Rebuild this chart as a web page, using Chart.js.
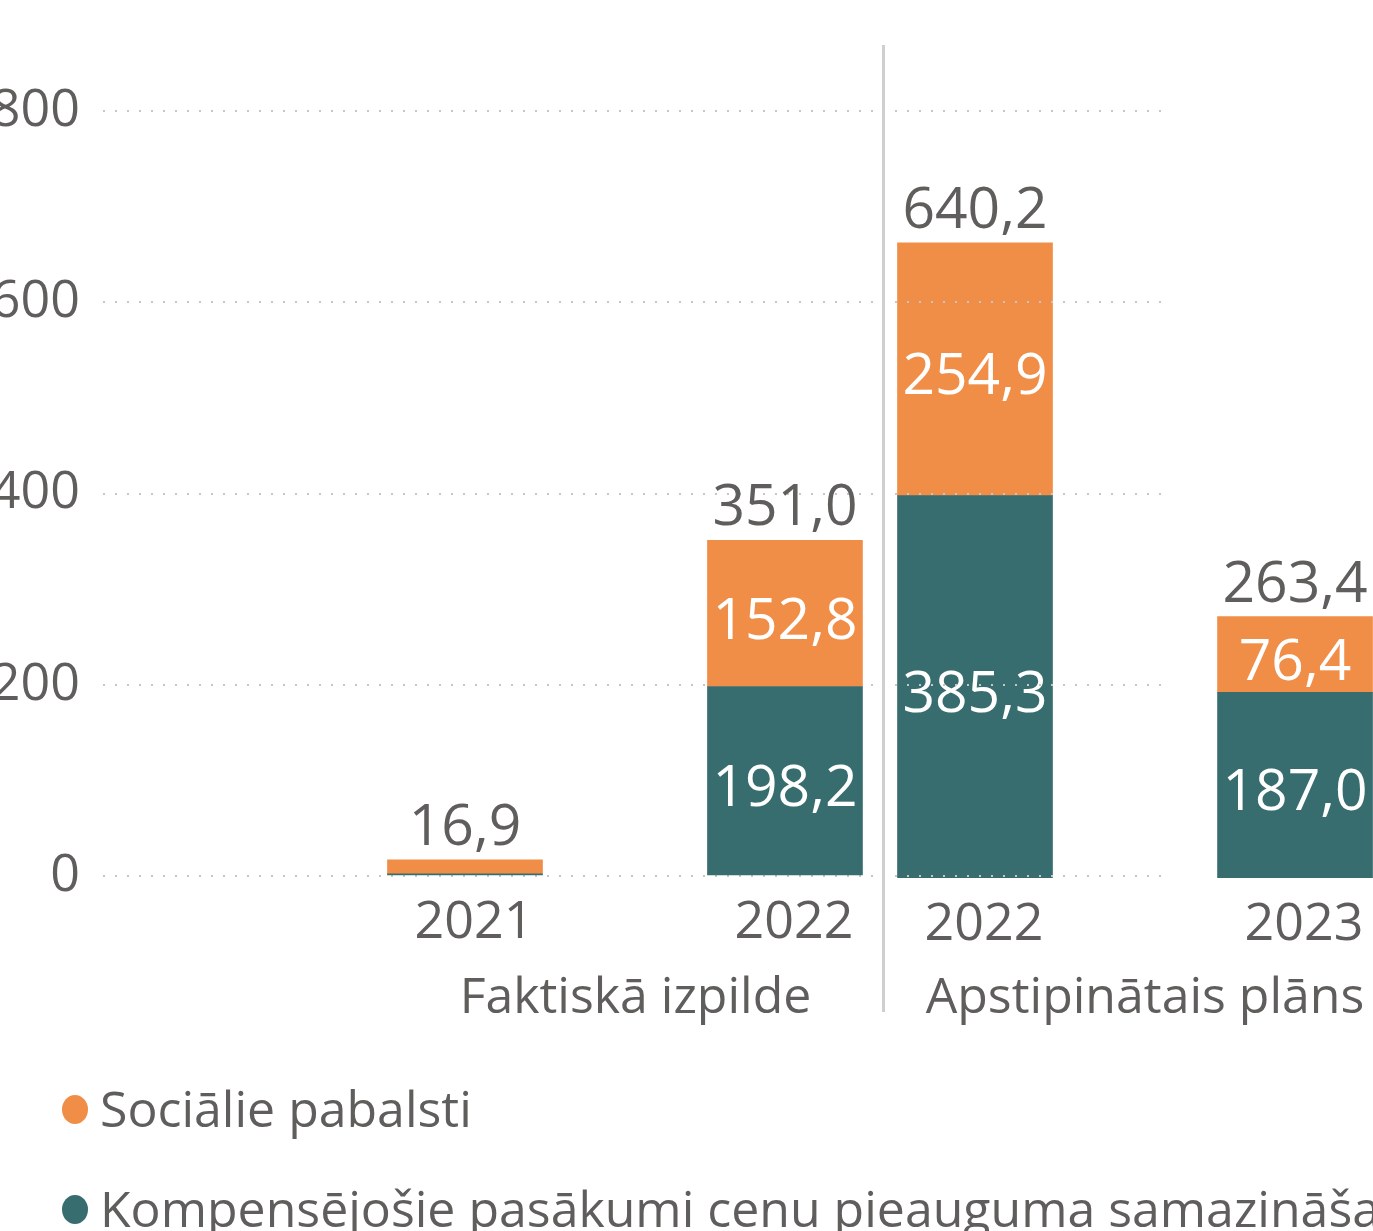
<!DOCTYPE html>
<html>
<head>
<meta charset="utf-8">
<script src="https://cdn.jsdelivr.net/npm/chart.js@4.4.0/dist/chart.umd.min.js"></script>
<style>
  html, body { margin:0; padding:0; background:#fff; overflow:hidden; }
  body { width:1373px; height:1231px; position:relative; font-family:'Open Sans', sans-serif; }
  #plans { position:absolute; left:884px; top:0; }
  #fakts { position:absolute; left:-10px; top:0; }
  #sep { position:absolute; left:882px; top:45px; width:3px; height:967px; background:#cfcfcf; }
  .leg { position:absolute; left:62px; white-space:nowrap; font-size:50px; line-height:60px; color:#605E5C; }
  .leg i { position:absolute; left:0; width:26px; height:29px; border-radius:50%; top:17px; }
  .leg span { position:absolute; left:38px; top:0; }
</style>
</head>
<body>
<canvas id="plans" width="516" height="1040"></canvas>
<canvas id="fakts" width="1200" height="1040"></canvas>
<div id="sep"></div>
<div class="leg" style="top:1078px"><i style="background:#F08E48"></i><span>Sociālie pabalsti</span></div>
<div class="leg" style="top:1178px"><i style="background:#386D6F"></i><span>Kompensējošie pasākumi cenu pieauguma samazināšanai</span></div>
<script>
// dati
const faktiGadi = ['2021', '2022'];
const faktiKomp = [2.3, 198.2];
const faktiSoc = [14.6, 152.8];
const planaGadi = ['2022', '2023'];
const planaKomp = [385.3, 187.0];
const planaSoc = [254.9, 76.4];
const yTicks = [0, 200, 400, 600, 800];

const oranzs = '#F08E48';
const zils = '#386D6F';
const pelek = '#605E5C';
const fonts = '"Open Sans", sans-serif';

function fmt(v) {
  return v.toFixed(1).replace('.', ',');
}

const etiketes = {
  id: 'etiketes',
  afterDatasetsDraw(chart) {
    const ctx = chart.ctx;
    ctx.save();
    ctx.font = '57px ' + fonts;
    ctx.textAlign = 'center';
    chart.data.datasets.forEach((ds, di) => {
      chart.getDatasetMeta(di).data.forEach((bar, i) => {
        if (Math.abs(bar.base - bar.y) > 50) {
          ctx.fillStyle = '#fff';
          ctx.textBaseline = 'middle';
          ctx.fillText(fmt(ds.data[i].y), bar.x, (bar.y + bar.base) / 2 + 9);
        }
      });
    });
    const last = chart.getDatasetMeta(chart.data.datasets.length - 1);
    last.data.forEach((bar, i) => {
      let total = 0;
      chart.data.datasets.forEach(ds => { total += ds.data[i].y; });
      ctx.fillStyle = pelek;
      ctx.textBaseline = 'alphabetic';
      ctx.fillText(fmt(total), bar.x, bar.y - 15);
    });
    ctx.restore();
  }
};

function grafiks(id, gadi, komp, soc, nosaukums, xMin, xMax, yMax, radit, pad, xAugst) {
  const ctx = document.getElementById(id).getContext('2d');
  return new Chart(ctx, {
    type: 'bar',
    data: {
      datasets: [
        { label: 'Kompensējošie pasākumi cenu pieauguma samazināšanai',
          data: komp.map((v, i) => ({x: i, y: v})), backgroundColor: zils, barThickness: 155 },
        { label: 'Sociālie pabalsti',
          data: soc.map((v, i) => ({x: i, y: v})), backgroundColor: oranzs, barThickness: 155 }
      ]
    },
    plugins: [etiketes],
    options: {
      responsive: false,
      devicePixelRatio: 1,
      animation: false,
      layout: { padding: pad },
      plugins: { legend: { display: false }, tooltip: { enabled: false } },
      scales: {
        x: {
          type: 'linear',
          stacked: true,
          offset: false,
          min: xMin,
          max: xMax,
          grid: { display: false, offset: false },
          border: { display: false },
          afterBuildTicks: s => { s.ticks = gadi.map((g, i) => ({ value: i })); },
          afterFit: s => {
            s.height = xAugst;
            s.paddingLeft = 0;
            s.paddingRight = 0;
          },
          ticks: {
            autoSkip: false,
            padding: 8,
            labelOffset: 9,
            color: pelek,
            font: { family: fonts, size: 52 },
            callback: v => gadi[v]
          },
          title: {
            display: true,
            text: nosaukums,
            color: pelek,
            font: { family: fonts, size: 50 },
            padding: { top: 0, bottom: 11 }
          }
        },
        y: {
          display: radit,
          stacked: true,
          min: 0,
          max: yMax,
          afterBuildTicks: s => { s.ticks = yTicks.map(v => ({ value: v })); },
          afterFit: s => { s.width = radit ? 113 : 0; },
          grid: { color: '#C8C6C4', lineWidth: 2, drawTicks: false },
          border: { display: false, dash: [2, 10] },
          ticks: {
            padding: 23,
            color: pelek,
            font: { family: fonts, size: 52 }
          }
        }
      }
    }
  });
}

document.fonts.load('52px "Open Sans"').then(() => {
  grafiks('plans', planaGadi, planaKomp, planaSoc, 'Apstipinātais plāns',
    -0.2656, 1.328, 773, false, { top: 111, left: 6, right: 0, bottom: 0 }, 162);
  grafiks('fakts', faktiGadi, faktiKomp, faktiSoc, 'Faktiskā izpilde',
    -1.13125, 2.197, 800, true, { top: 111, left: 0, right: 22, bottom: 0 }, 164);
});
</script>
</body>
</html>
